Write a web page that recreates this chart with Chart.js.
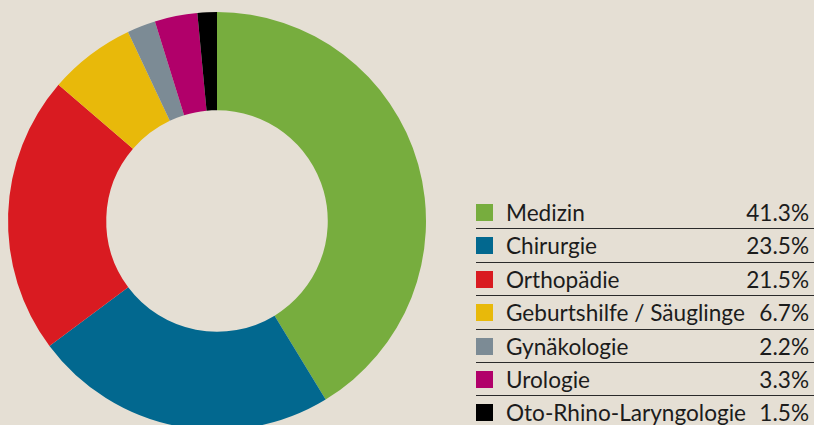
<!DOCTYPE html>
<html>
<head>
<meta charset="utf-8">
<script src="https://cdn.jsdelivr.net/npm/chart.js@4"></script>
<style>
  html, body { margin: 0; padding: 0; width: 814px; height: 425px; overflow: hidden; background: #e5dfd4; }
  #wrap { position: absolute; left: 0; top: 0; width: 434px; height: 442px; }
  #legend { position: absolute; left: 476px; top: 196px; width: 338px; margin: 0; padding: 0; list-style: none;
            font-family: Lato, "Open Sans", sans-serif; font-size: 22.6px; color: #1c1c1c; }
  #legend li { position: relative; height: 33.4px; line-height: 33px; box-sizing: border-box;
               border-bottom: 1.5px solid #2a2a2a; padding-left: 30px; }
  #legend li:last-child { border-bottom: none; }
  #legend .box { position: absolute; left: 0; top: 8px; width: 17px; height: 17px; }
  #legend .val { position: absolute; right: 5px; top: 0; }
</style>
</head>
<body>
<div id="wrap"><canvas id="donut"></canvas></div>
<ul id="legend"></ul>
<script>
const labels = ["Medizin", "Chirurgie", "Orthopädie", "Geburtshilfe / Säuglinge", "Gynäkologie", "Urologie", "Oto-Rhino-Laryngologie"];
const shares = [41.3, 23.5, 21.5, 6.7, 2.2, 3.3, 1.5];
const colors = ["#77ad3e", "#02688f", "#d91b21", "#e8b90a", "#7c8b95", "#b1006a", "#000000"];

const donutCanvas = document.getElementById("donut");

const donutChart = new Chart(donutCanvas, {
  type: "doughnut",
  data: {
    labels: labels,
    datasets: [{
      data: shares,
      backgroundColor: colors,
      borderWidth: 0,
      hoverOffset: 0
    }]
  },
  options: {
    responsive: true,
    maintainAspectRatio: false,
    animation: false,
    cutout: "53%",
    layout: {
      padding: { left: 8, right: 8, top: 12, bottom: 12 }
    },
    events: [],
    plugins: {
      legend: { display: false },
      tooltip: { enabled: false }
    }
  }
});

// legend on the right, built from the same arrays
const legend = document.getElementById("legend");
for (let i = 0; i < labels.length; i++) {
  const li = document.createElement("li");
  const box = document.createElement("span");
  box.className = "box";
  box.style.background = colors[i];
  const name = document.createElement("span");
  name.textContent = labels[i];
  const val = document.createElement("span");
  val.className = "val";
  val.textContent = shares[i].toFixed(1) + "%";
  li.appendChild(box);
  li.appendChild(name);
  li.appendChild(val);
  legend.appendChild(li);
}
</script>
</body>
</html>
